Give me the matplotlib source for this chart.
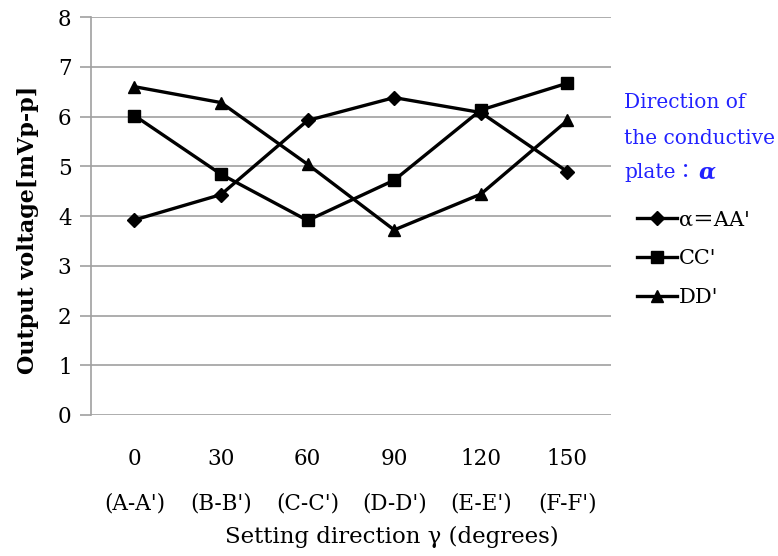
import numpy as np
import matplotlib
matplotlib.use("Agg")
from matplotlib import pyplot as plt

# data
angles = ["0", "30", "60", "90", "120", "150"]
directions = ["(A-A')", "(B-B')", "(C-C')", "(D-D')", "(E-E')", "(F-F')"]
aa = [3.92, 4.43, 5.92, 6.38, 6.08, 4.89]
cc = [6.02, 4.84, 3.91, 4.72, 6.13, 6.67]
dd = [6.60, 6.28, 5.04, 3.72, 4.44, 5.92]
series_names = ["α＝AA'", "CC'", "DD'"]

plt.rcParams['font.family'] = ['DejaVu Serif', 'Noto Sans CJK JP']

fig = plt.figure(figsize=(7.78, 5.56), dpi=100)
ax = fig.add_axes([0.117, 0.2536, 0.668, 0.7158])

x = np.arange(len(angles))
markers = ["D", "s", "^"]
sizes = [7, 9, 9]
for vals, name, m, ms in zip([aa, cc, dd], series_names, markers, sizes):
    ax.plot(x, vals, color="black", lw=2.4, marker=m, ms=ms, label=name)

ax.set_xlim(-0.5, len(angles) - 0.5)
ax.set_ylim(0, 8)
ax.set_yticks(range(0, 9))
ax.yaxis.grid(True, color="#a0a0a0", lw=1.2)
ax.set_axisbelow(True)
for s in ["top", "right", "bottom"]:
    ax.spines[s].set_visible(False)
ax.spines["left"].set_color("#a0a0a0")
ax.spines["left"].set_linewidth(1.2)
ax.tick_params(axis="y", length=8, width=1.2, color="#a0a0a0", labelsize=15.5, pad=6)
ax.tick_params(axis="x", length=0, labelsize=15.5, pad=24)
ax.set_xticks(x)
ax.set_xticklabels([a + "\n" + d for a, d in zip(angles, directions)], linespacing=2.3)

ax.set_xlabel("Setting direction γ (degrees)", fontsize=16.5, va="center")
ax.set_ylabel("Output voltage[mVp-p]", fontsize=16, fontweight="bold", va="center")
ax.xaxis.set_label_coords(0.579, -0.307)
ax.yaxis.set_label_coords(-0.122, 0.465)

# legend title in blue
blue = "#2222ff"
tkw = dict(color=blue, fontsize=14.5, ha="left", va="center")
fig.text(0.802, 1 - 103 / 556, "Direction of", **tkw)
fig.text(0.802, 1 - 138 / 556, "the conductive", **tkw)
t3 = fig.text(0.802, 1 - 172 / 556, "plate：", **tkw)
ax.annotate("α", xy=(1, 0.5), xycoords=t3, xytext=(2, 0), textcoords="offset points",
            color=blue, fontsize=16, fontweight="bold", fontstyle="italic",
            ha="left", va="center", family="DejaVu Serif")

leg = ax.legend(loc="upper left", bbox_to_anchor=(1.035, 0.535), frameon=False,
                fontsize=15, handlelength=1.9, handletextpad=0.1,
                labelspacing=0.95, borderaxespad=0)

fig.savefig("out.png", dpi=100)
